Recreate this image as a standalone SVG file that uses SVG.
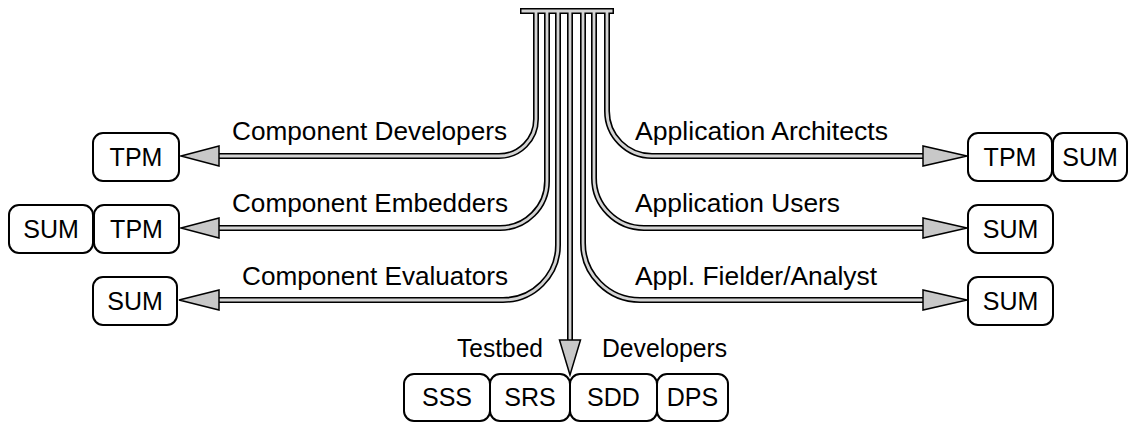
<svg xmlns="http://www.w3.org/2000/svg" xmlns:xlink="http://www.w3.org/1999/xlink" width="1130" height="423" viewBox="0 0 1130 423">
  <style>
    .box { fill: #fff; stroke: #000; stroke-width: 2; }
    .blbl { font-family: "Liberation Sans", Arial, sans-serif; font-size: 25px; text-anchor: middle; fill: #000; }
    .lbl { font-family: "Liberation Sans", Arial, sans-serif; font-size: 26px; fill: #000; }
    .tube-out { fill: none; stroke: #000; stroke-width: 6; }
    .tube-in { fill: none; stroke: #d4d4d4; stroke-width: 2.8; }
    .head { fill: #c8c8c8; stroke: #000; stroke-width: 1.5; stroke-linejoin: miter; }
  </style>
  <defs>
    <!-- left fan -->
    <path id="t1" d="M536,10 V119 A37,37 0 0 1 499,156 H218"/>
    <path id="t2" d="M547,10 V181 A47,47 0 0 1 500,228 H218"/>
    <path id="t3" d="M558,10 V245 A55,55 0 0 1 503,300 H218"/>
    <!-- center -->
    <path id="t4" d="M570,10 V341"/>
    <!-- right fan -->
    <path id="t5" d="M607,10 V111 A45,45 0 0 0 652,156 H924"/>
    <path id="t6" d="M594,10 V178 A50,50 0 0 0 644,228 H924"/>
    <path id="t7" d="M583,10 V243 A57,57 0 0 0 640,300 H924"/>
  </defs>
  <rect width="1130" height="423" fill="#fff"/>

  <g id="connectors">
    <rect x="520" y="8" width="94" height="6" fill="#000"/>
    <use xlink:href="#t1" class="tube-out"/>
    <use xlink:href="#t2" class="tube-out"/>
    <use xlink:href="#t3" class="tube-out"/>
    <use xlink:href="#t4" class="tube-out"/>
    <use xlink:href="#t5" class="tube-out"/>
    <use xlink:href="#t6" class="tube-out"/>
    <use xlink:href="#t7" class="tube-out"/>
    <rect x="521.5" y="9.5" width="91" height="3" fill="#d4d4d4"/>
    <use xlink:href="#t1" class="tube-in"/>
    <use xlink:href="#t2" class="tube-in"/>
    <use xlink:href="#t3" class="tube-in"/>
    <use xlink:href="#t4" class="tube-in"/>
    <use xlink:href="#t5" class="tube-in"/>
    <use xlink:href="#t6" class="tube-in"/>
    <use xlink:href="#t7" class="tube-in"/>
    <!-- arrowheads -->
    <polygon class="head" points="181,156 219,146 219,166"/>
    <polygon class="head" points="181,228 219,218 219,238"/>
    <polygon class="head" points="179,300 219,290 219,310"/>
    <polygon class="head" points="967,156 923,146 923,166"/>
    <polygon class="head" points="967,228 923,218 923,238"/>
    <polygon class="head" points="967,300 923,290 923,310"/>
    <polygon class="head" points="570,375 559.5,340 580.5,340"/>
  </g>

  <g id="labels">
    <text class="lbl" x="232" y="140" textLength="275" lengthAdjust="spacingAndGlyphs">Component Developers</text>
    <text class="lbl" x="232" y="212" textLength="276" lengthAdjust="spacingAndGlyphs">Component Embedders</text>
    <text class="lbl" x="242" y="285" textLength="266" lengthAdjust="spacingAndGlyphs">Component Evaluators</text>
    <text class="lbl" x="635" y="140" textLength="253" lengthAdjust="spacingAndGlyphs">Application Architects</text>
    <text class="lbl" x="635" y="212" textLength="205" lengthAdjust="spacingAndGlyphs">Application Users</text>
    <text class="lbl" x="635" y="285" textLength="242" lengthAdjust="spacingAndGlyphs">Appl. Fielder/Analyst</text>
    <text class="lbl" x="457" y="357" textLength="86" lengthAdjust="spacingAndGlyphs">Testbed</text>
    <text class="lbl" x="602" y="357" textLength="125" lengthAdjust="spacingAndGlyphs">Developers</text>
  </g>

  <g id="cd-tpm"><rect class="box" x="93" y="133" width="86" height="48" rx="10"/><text class="blbl" x="136" y="166">TPM</text></g>
  <g id="ce-sum"><rect class="box" x="9" y="205" width="84" height="48" rx="10"/><text class="blbl" x="51" y="238">SUM</text></g>
  <g id="ce-tpm"><rect class="box" x="94" y="205" width="85" height="48" rx="10"/><text class="blbl" x="136.5" y="238">TPM</text></g>
  <g id="cv-sum"><rect class="box" x="93" y="277" width="84" height="48" rx="10"/><text class="blbl" x="135" y="310">SUM</text></g>

  <g id="aa-tpm"><rect class="box" x="968" y="133" width="84" height="48" rx="10"/><text class="blbl" x="1010" y="166">TPM</text></g>
  <g id="aa-sum"><rect class="box" x="1053" y="133" width="74" height="48" rx="10"/><text class="blbl" x="1090" y="166">SUM</text></g>
  <g id="au-sum"><rect class="box" x="968" y="205" width="85" height="48" rx="10"/><text class="blbl" x="1010.5" y="238">SUM</text></g>
  <g id="af-sum"><rect class="box" x="968" y="277" width="85" height="48" rx="10"/><text class="blbl" x="1010.5" y="310">SUM</text></g>

  <g id="tb-sss"><rect class="box" x="404" y="374" width="86" height="47" rx="10"/><text class="blbl" x="447" y="406">SSS</text></g>
  <g id="tb-srs"><rect class="box" x="490" y="374" width="80" height="47" rx="10"/><text class="blbl" x="530" y="406">SRS</text></g>
  <g id="tb-sdd"><rect class="box" x="570" y="374" width="87" height="47" rx="10"/><text class="blbl" x="613.5" y="406">SDD</text></g>
  <g id="tb-dps"><rect class="box" x="657" y="374" width="71" height="47" rx="10"/><text class="blbl" x="692.5" y="406">DPS</text></g>
</svg>
